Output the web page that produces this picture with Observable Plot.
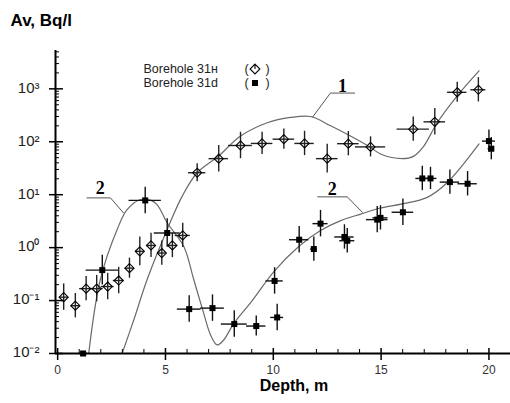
<!DOCTYPE html>
<html><head><meta charset="utf-8">
<script src="https://cdn.jsdelivr.net/npm/d3@7"></script>
<script src="https://cdn.jsdelivr.net/npm/@observablehq/plot@0.6"></script>
<style>html,body{margin:0;padding:0;background:#fff}#chart svg{display:block}</style>
</head><body><div id="chart"></div>
<script>
// Borehole 31н (open diamonds)
const hDepth = [0.28,0.82,1.32,1.81,2.32,2.83,3.33,3.81,4.33,4.83,5.32,5.80,6.47,7.47,8.48,9.48,10.49,11.45,12.50,13.48,14.51,16.49,17.49,18.53,19.51];
const hAv = [0.116,0.080,0.168,0.168,0.184,0.239,0.41,0.85,1.10,0.79,1.10,1.70,26,48,85,93,112,93,48,92,80,173,238,860,960];
const hDepthErr = [0.2,0.2,0.3,0.3,0.3,0.25,0.2,0.2,0.2,0.2,0.2,0.35,0.4,0.45,0.55,0.5,0.5,0.45,0.5,0.5,0.7,0.75,0.5,0.45,0.35];
const hAvErrDec = [0.25,0.23,0.23,0.25,0.25,0.25,0.19,0.27,0.23,0.23,0.23,0.23,0.17,0.25,0.25,0.21,0.19,0.23,0.27,0.23,0.19,0.23,0.25,0.19,0.23];

// Borehole 31d (filled squares)
const dDepth = [1.18,2.07,4.06,5.08,6.10,7.18,8.19,9.21,10.06,10.18,11.20,11.88,12.19,13.30,13.43,14.82,14.97,16.01,16.91,17.29,18.19,19.01,20.00,20.11];
const dAv = [0.01,0.376,7.8,1.89,0.069,0.072,0.036,0.033,0.235,0.048,1.41,0.94,2.84,1.59,1.35,3.38,3.65,4.66,20.3,20.3,17.3,16.1,103,74];
const dDepthErr = [0.2,0.75,0.75,0.6,0.55,0.55,0.6,0.45,0.4,0.3,0.45,0.15,0.35,0.45,0.35,0.5,0.35,0.5,0.3,0.3,0.45,0.45,0.3,0.15];
const dAvErrDec = [0,0.28,0.25,0.27,0.25,0.25,0.25,0.19,0.25,0.25,0.25,0.23,0.25,0.23,0.23,0.25,0.23,0.25,0.23,0.21,0.23,0.23,0.21,0.21];

// Model curve 1 and curve 2
const c1Depth = [2.99,3.53,4.15,5.08,5.77,6.47,7.47,8.48,9.72,10.8,11.73,12.66,13.58,14.51,15.0,15.98,16.5,16.98,17.6,18.53,19.54];
const c1Av = [0.01,0.043,0.25,2.2,9.3,26,54,128,229,288,300,200,128,78,58,48,53,83,229,740,2190];
const c2Depth = [1.44,1.98,2.76,3.22,3.84,4.3,4.61,5.08,5.85,6.31,6.77,7.1,7.4,7.7,8.17,8.94,10.02,11.18,12.19,13.1,14.05,14.97,15.98,17.14,18.07,19.54];
const c2Av = [0.01,0.25,2.2,5.2,8.1,7.9,6.5,2.95,1.05,0.25,0.058,0.022,0.0145,0.018,0.037,0.09,0.35,1.05,2.1,3.2,4.3,5.6,6.7,8.9,17,91];

// Curve labels with leader lines
const curveLabels = ["1","2","2"];
const labelDepth = [13.21,1.98,12.73];
const labelAv = [1120,13.5,12.6];
const leaderDepth = [[11.82,12.65,13.77],[3.06,2.45,1.36],[14.13,13.43,12.06]];
const leaderAv = [[292,832,832],[4.5,8.7,8.7],[4.65,9.1,9.1]];

// Axes
const xTicks = [0,5,10,15,20];
const xMinor = [1,2,3,4,6,7,8,9,11,12,13,14,16,17,18,19,21];
const yTicks = [0.01,0.1,1,10,100,1000];
const yMinor = [0.01,0.1,1,10,100,1000].flatMap(b => [2,3,4,5,6,7,8,9].map(m => b*m)).filter(v => v < 5300);
const legendNames = ["Borehole 31н","Borehole 31d"];

const sup = {"-":"⁻","0":"⁰","1":"¹","2":"²","3":"³","4":"⁴","5":"⁵","6":"⁶","7":"⁷","8":"⁸","9":"⁹"};
const fmt = d => "10" + String(Math.round(Math.log10(d))).split("").map(c => sup[c]).join("");

const hIdx = hDepth.map((_, i) => i);
const dIdx = dDepth.map((_, i) => i);
const c1 = c1Depth.map((x, i) => ({x, y: c1Av[i]}));
const c2 = c2Depth.map((x, i) => ({x, y: c2Av[i]}));
const leaders = leaderDepth.flatMap((xs, k) => xs.map((x, j) => ({k, x, y: leaderAv[k][j]})));

const W = 510, H = 403, ML = 55, MR = 0, MT = 50, MB = 50;
const FW = W - ML - MR, FH = H - MT - MB;
const font = "'Liberation Sans', Arial, sans-serif";

const diamondTick = {draw(ctx, size) {
  const r = Math.sqrt(size) * 0.62625;
  ctx.moveTo(0, -r); ctx.lineTo(r, 0); ctx.lineTo(0, r); ctx.lineTo(-r, 0); ctx.closePath();
  ctx.moveTo(0, -r); ctx.lineTo(0, 0);
}};

const legendY = [18.5, 32.5];
const legendRow = (i) => {
  const base = {frameAnchor: "top-left", dy: legendY[i], lineAnchor: "middle", fill: "#222"};
  return [
    Plot.text([legendNames[i]], {...base, dx: 88, text: d => d, textAnchor: "start", fontSize: 12.5}),
    Plot.text(["("], {...base, dx: 189, text: d => d, fontSize: 12.5}),
    Plot.text([")"], {...base, dx: 210, text: d => d, fontSize: 12.5})
  ];
};

const chart = Plot.plot({
  width: W, height: H,
  marginLeft: ML, marginRight: MR, marginTop: MT, marginBottom: MB,
  style: {background: "#fff", fontFamily: font, overflow: "visible"},
  x: {domain: [-0.1, 21], axis: null},
  y: {type: "log", domain: [0.01, 5300], axis: null},
  marks: [
    // model curves
    Plot.line(c1, {x: "x", y: "y", stroke: "#6a6a6a", strokeWidth: 1.2, curve: "catmull-rom"}),
    Plot.line(c2, {x: "x", y: "y", stroke: "#6a6a6a", strokeWidth: 1.2, curve: "catmull-rom"}),
    // leaders
    Plot.line(leaders, {x: "x", y: "y", z: "k", stroke: "#555", strokeWidth: 1}),
    Plot.text(curveLabels, {x: (d, i) => labelDepth[i], y: (d, i) => labelAv[i], text: d => d,
      fontFamily: "'Liberation Serif', 'Times New Roman', serif", fontWeight: "bold", fontSize: 18, fill: "#000", lineAnchor: "middle"}),
    // error bars 31н
    Plot.ruleX(hIdx, {x: i => hDepth[i], y1: i => hAv[i] / 10 ** hAvErrDec[i], y2: i => hAv[i] * 10 ** hAvErrDec[i], stroke: "#222", strokeWidth: 1.4}),
    Plot.ruleY(hIdx, {y: i => hAv[i], x1: i => hDepth[i] - hDepthErr[i], x2: i => hDepth[i] + hDepthErr[i], stroke: "#222", strokeWidth: 1.4}),
    // error bars 31d
    Plot.ruleX(dIdx.filter(i => dAvErrDec[i] > 0), {x: i => dDepth[i], y1: i => dAv[i] / 10 ** dAvErrDec[i], y2: i => dAv[i] * 10 ** dAvErrDec[i], stroke: "#111", strokeWidth: 1.4}),
    Plot.ruleY(dIdx, {y: i => dAv[i], x1: i => dDepth[i] - dDepthErr[i], x2: i => dDepth[i] + dDepthErr[i], stroke: "#111", strokeWidth: 1.4}),
    // points
    Plot.dot(hIdx, {x: i => hDepth[i], y: i => hAv[i], symbol: "diamond2", r: 4.1, stroke: "#000", strokeWidth: 1.1, fill: "none"}),
    Plot.dot(dIdx, {x: i => dDepth[i], y: i => dAv[i], symbol: "square", r: 3.4, fill: "#000", stroke: "none"}),
    // frame lines
    Plot.ruleX([-0.1], {stroke: "#000", strokeWidth: 2}),
    Plot.ruleY([0.01], {stroke: "#000", strokeWidth: 2}),
    // ticks
    Plot.tickX(xTicks, {x: d => d, insetTop: FH - 12, dy: 7, stroke: "#000", strokeWidth: 1.5}),
    Plot.tickX(xMinor, {x: d => d, insetTop: FH - 4, stroke: "#000", strokeWidth: 1}),
    Plot.tickY(yTicks, {y: d => d, insetRight: FW - 14, dx: -6, stroke: "#000", strokeWidth: 1.5}),
    Plot.tickY(yMinor, {y: d => d, insetRight: FW - 4, stroke: "#000", strokeWidth: 1}),
    Plot.axisX(xTicks, {tickSize: 0, tickPadding: 12, fontSize: 12, fill: "#333", label: null}),
    Plot.axisY(yTicks, {tickSize: 0, tickPadding: 16, tickFormat: fmt, fontSize: 15, fill: "#222", label: null, dy: -1}),
    // titles
    Plot.text(["Av, Bq/l"], {frameAnchor: "top-left", dx: -45, dy: -30, text: d => d, textAnchor: "start", lineAnchor: "middle", fontSize: 17, fontWeight: "bold", fill: "#000"}),
    Plot.text(["Depth, m"], {frameAnchor: "bottom", dx: 11, dy: 32, text: d => d, lineAnchor: "middle", fontSize: 16, fontWeight: "bold", fill: "#000"}),
    // legend
    ...legendRow(0),
    ...legendRow(1),
    Plot.dot([0], {frameAnchor: "top-left", dx: 199.5, dy: 18.5, symbol: diamondTick, r: 4.4, stroke: "#000", fill: "none", strokeWidth: 1.1}),
    Plot.dot([0], {frameAnchor: "top-left", dx: 199.5, dy: 32.5, symbol: "square", r: 3.4, fill: "#000"})
  ]
});
document.getElementById("chart").appendChild(chart);
</script>
</body></html>
